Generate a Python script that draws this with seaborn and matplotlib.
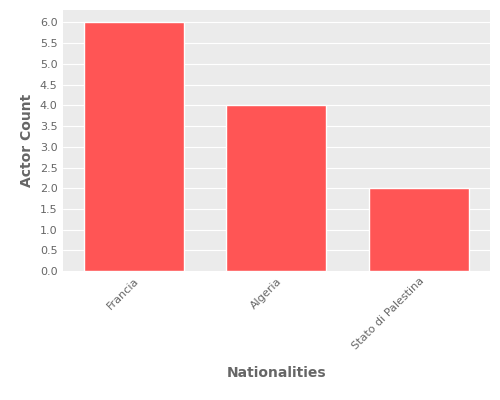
import seaborn as sns
import matplotlib.pyplot as plt
import pandas as pd
import numpy as np

nationalities = ['Francia', 'Algeria', 'Stato di Palestina']
counts = [6, 4, 2]

df = pd.DataFrame({'Nationality': nationalities, 'Count': counts})

sns.set_style('darkgrid', {'axes.facecolor': '#EBEBEB', 'grid.color': 'white'})
plt.rcParams['font.family'] = ['DejaVu Sans']

fig, ax = plt.subplots(figsize=(5, 4), dpi=100)
sns.barplot(data=df, x='Nationality', y='Count', color='#FF5555', saturation=1, width=0.7, ax=ax)

ax.set_yticks(np.arange(0, 6.01, 0.5))
ax.set_ylim(0, 6.3)
ax.grid(axis='x', visible=False)
ax.set_xlabel('Nationalities', fontsize=10, fontweight='bold', color='#666666', labelpad=10)
ax.set_ylabel('Actor Count', fontsize=10, fontweight='bold', color='#666666')
ax.tick_params(colors='#666666', labelsize=8, length=0)
for lbl in ax.get_xticklabels():
    lbl.set_rotation(45)
    lbl.set_ha('right')
    lbl.set_rotation_mode('anchor')
for s in ax.spines.values():
    s.set_visible(False)

fig.subplots_adjust(left=0.125, right=0.98, top=0.975, bottom=0.322)
fig.savefig('out.png')
